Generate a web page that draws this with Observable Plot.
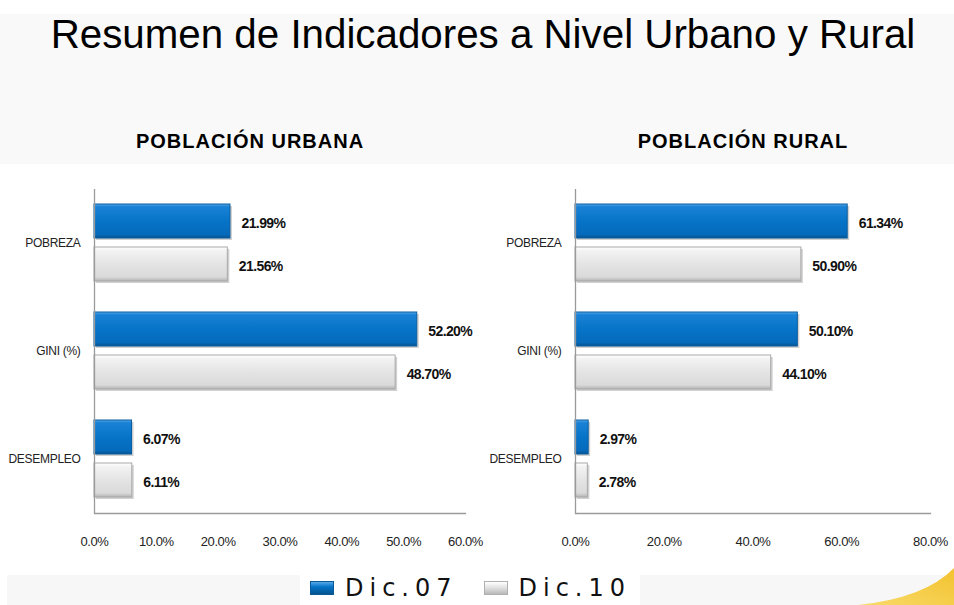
<!DOCTYPE html>
<html>
<head>
<meta charset="utf-8">
<script src="https://cdn.jsdelivr.net/npm/d3@7"></script>
<script src="https://cdn.jsdelivr.net/npm/@observablehq/plot@0.6"></script>
<style>
  html, body { margin: 0; padding: 0; }
  body { width: 954px; height: 605px; overflow: hidden; position: relative; background: #ffffff; font-family: "Liberation Sans", Arial, sans-serif; }
  #header { position: absolute; left: 0; top: 14px; width: 954px; height: 150px; background: #f9f9f9; }
  #footer { position: absolute; left: 7px; top: 575px; width: 947px; height: 30px; background: #f7f7f7; }
  #footerbox { position: absolute; left: 300px; top: 575px; width: 340px; height: 30px; background: #ffffff; }
  #swoosh { position: absolute; left: 0; top: 0; }
  #title { position: absolute; left: 6px; top: 10px; width: 954px; text-align: center; font-size: 40.3px; line-height: 50px; color: #000; font-family: "Liberation Sans", Arial, sans-serif; }
  .sub { position: absolute; top: 128px; width: 400px; text-align: center; font-weight: bold; font-size: 20px; letter-spacing: 1px; line-height: 26px; color: #000; }
  #chartL { position: absolute; left: 0; top: 180px; }
  #chartR { position: absolute; left: 480px; top: 180px; }
  #legend { position: absolute; left: 310px; top: 573px; height: 30px; display: flex; align-items: center; font-family: "DejaVu Sans", sans-serif; font-size: 24px; letter-spacing: 6px; color: #111; }
  .sw { display: inline-block; width: 22px; height: 12px; margin-right: 11px; }
  .lab { margin-right: 26px; }
</style>
</head>
<body>
<svg width="0" height="0" style="position:absolute">
  <defs>
    <linearGradient id="gBlue" x1="0" y1="0" x2="0" y2="1">
      <stop offset="0" stop-color="#58a8e8"/>
      <stop offset="0.08" stop-color="#1a82d6"/>
      <stop offset="0.5" stop-color="#0674c8"/>
      <stop offset="0.9" stop-color="#066abb"/>
      <stop offset="1" stop-color="#05548f"/>
    </linearGradient>
    <linearGradient id="gGrey" x1="0" y1="0" x2="0" y2="1">
      <stop offset="0" stop-color="#ffffff"/>
      <stop offset="0.12" stop-color="#f2f2f2"/>
      <stop offset="0.5" stop-color="#e4e4e4"/>
      <stop offset="0.88" stop-color="#dadada"/>
      <stop offset="1" stop-color="#b4b4b4"/>
    </linearGradient>
    <linearGradient id="gYellow" x1="0" y1="1" x2="1" y2="0">
      <stop offset="0" stop-color="#f8da6a"/>
      <stop offset="1" stop-color="#f3c22e"/>
    </linearGradient>
  </defs>
</svg>
<div id="header"></div>
<div id="footer"></div>
<div id="footerbox"></div>
<svg id="swoosh" width="954" height="605"><path d="M858,605 Q925,598 954,568 L954,605 Z" fill="url(#gYellow)"/></svg>
<div id="title">Resumen de Indicadores a Nivel Urbano y Rural</div>
<div class="sub" style="left:50px">POBLACIÓN URBANA</div>
<div class="sub" style="left:543px">POBLACIÓN RURAL</div>
<div id="chartL"></div>
<div id="chartR"></div>
<div id="legend">
  <span class="sw" style="background:linear-gradient(#58a8e8,#0674c8 40%,#05548f);border:1px solid #0a5a9a"></span><span class="lab">Dic.07</span>
  <span class="sw" style="background:linear-gradient(#ffffff,#e0e0e0 50%,#b8b8b8);border:1px solid #b0b0b0"></span><span>Dic.10</span>
</div>
<script>
// ---- data ----
const indicators = ["POBREZA", "GINI (%)", "DESEMPLEO"];
const seriesNames = ["Dic.07", "Dic.10"];
const urbanDic07 = [21.99, 52.20, 6.07];
const urbanDic10 = [21.56, 48.70, 6.11];
const ruralDic07 = [61.34, 50.10, 2.97];
const ruralDic10 = [50.90, 44.10, 2.78];
const urbanTicks = [0, 10, 20, 30, 40, 50, 60];
const ruralTicks = [0, 20, 40, 60, 80];

function rows(v07, v10) {
  return indicators.flatMap((c, i) => [
    {cat: c, s: seriesNames[0], v: v07[i]},
    {cat: c, s: seriesNames[1], v: v10[i]}
  ]);
}

function chart(v07, v10, ticks, width, marginLeft, marginRight) {
  const data = rows(v07, v10);
  const d07 = data.filter(d => d.s === seriesNames[0]);
  const d10 = data.filter(d => d.s === seriesNames[1]);
  const svg = Plot.plot({
    width, height: 380,
    marginTop: 8, marginBottom: 46, marginLeft, marginRight,
    style: {fontFamily: "'Liberation Sans', Arial, sans-serif", fontSize: "12px", color: "#222", background: "transparent", overflow: "visible"},
    x: {domain: [ticks[0], ticks[ticks.length - 1]], ticks, tickFormat: d => d.toFixed(1) + "%", tickSize: 0, tickPadding: 23, label: null},
    y: {domain: seriesNames, axis: null, paddingInner: 0.2, paddingOuter: 0.34},
    fy: {domain: indicators, padding: 0, label: null, axis: "left", tickSize: 0, tickPadding: 14},
    marks: [
      Plot.barX(data, {x: "v", y: "s", fy: "cat", fill: "#9a9a9a", fillOpacity: 0.45, dx: 2, dy: 2}),
      Plot.barX(d07, {x: "v", y: "s", fy: "cat", fill: "url(#gBlue)", stroke: "#0a5c9e", strokeWidth: 1}),
      Plot.barX(d10, {x: "v", y: "s", fy: "cat", fill: "url(#gGrey)", stroke: "#a9a9a9", strokeWidth: 1}),
      Plot.text(data, {x: "v", y: "s", fy: "cat", text: d => d.v.toFixed(2) + "%", textAnchor: "start", dx: 11, dy: 2, fontWeight: "bold", fontSize: 14, fill: "#111"}),
      Plot.ruleX([0], {stroke: "#9a9a9a", strokeWidth: 1.3}),
      Plot.frame({anchor: "bottom", facetAnchor: "bottom", stroke: "#9a9a9a", strokeWidth: 1.3})
    ]
  });
  const s = d3.select(svg);
  s.selectAll("[aria-label='fy-axis tick label'] text").style("letter-spacing", "-0.3px");
  s.selectAll("[aria-label='x-axis tick label'] text").style("letter-spacing", "-0.4px").style("font-size", "13px");
  s.selectAll("[aria-label='text'] text").style("letter-spacing", "-0.6px");
  return svg;
}

document.getElementById("chartL").append(chart(urbanDic07, urbanDic10, urbanTicks, 480, 94, 15));
document.getElementById("chartR").append(chart(ruralDic07, ruralDic10, ruralTicks, 474, 95, 24));
</script>
</body>
</html>
